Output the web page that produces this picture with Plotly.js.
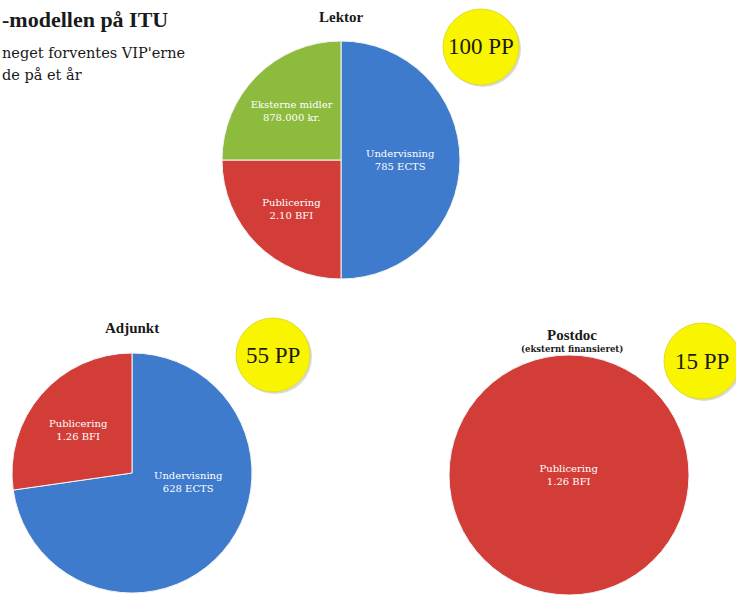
<!DOCTYPE html>
<html><head><meta charset="utf-8">
<script src="https://cdn.plot.ly/plotly-3.0.1.min.js"></script>
<style>html,body{margin:0;padding:0;background:#fff}#chart{width:736px;height:596px}</style>
</head><body><div id="chart"></div>
<script>
// Data (values in PP points)
const lektorLabels = ["Undervisning", "Publicering", "Eksterne midler"];
const lektorValues = [50, 25, 25];
const lektorText = ["Undervisning<br>785 ECTS", "Publicering<br>2.10 BFI", "Eksterne midler<br>878.000 kr."];
const lektorTotal = "100 PP";

const adjunktLabels = ["Undervisning", "Publicering"];
const adjunktValues = [40, 15];
const adjunktText = ["Undervisning<br>628 ECTS", "Publicering<br>1.26 BFI"];
const adjunktTotal = "55 PP";

const postdocLabels = ["Publicering"];
const postdocValues = [15];
const postdocText = ["Publicering<br>1.26 BFI"];
const postdocTotal = "15 PP";

const titleLines = ["-modellen på ITU", "neget forventes VIP'erne", "de på et år"];

const colorMap = {"Undervisning": "#3f7bcc", "Publicering": "#d23d38", "Eksterne midler": "#8dbb3e"};
const W = 736, H = 596;
const serif = "Liberation Serif, DejaVu Serif, serif";
const wide = "DejaVu Serif, serif";
function px(x){return x / W;}
function py(y){return 1 - y / H;}

function pieTrace(labels, values, text, cx, cy, r, showText) {
  return {
    type: "pie", labels: labels, values: values, text: text,
    sort: false, direction: "clockwise", rotation: 0,
    textinfo: showText ? "text" : "none", textposition: "inside",
    insidetextorientation: "horizontal",
    insidetextfont: {family: wide, size: 10, color: "#ffffff"},
    marker: {colors: labels.map(l => colorMap[l]), line: {color: "#f4f4f4", width: 1}},
    domain: {x: [px(cx - r), px(cx + r)], y: [py(cy + r), py(cy - r)]},
    showlegend: false, hoverinfo: "label+value"
  };
}

const data = [
  pieTrace(lektorLabels, lektorValues, lektorText, 341, 160, 119, true),
  pieTrace(adjunktLabels, adjunktValues, adjunktText, 132, 473, 120, false),
  pieTrace(postdocLabels, postdocValues, postdocText, 569, 475, 120, true)
];

const shapes = [];
const annotations = [];
function badge(cx, cy, r, txt) {
  shapes.push({type: "circle", xref: "paper", yref: "paper",
    x0: px(cx - r + 2), x1: px(cx + r + 2), y0: py(cy + r + 2), y1: py(cy - r + 2),
    fillcolor: "rgba(150,150,150,0.35)", line: {width: 0}});
  shapes.push({type: "circle", xref: "paper", yref: "paper",
    x0: px(cx - r), x1: px(cx + r), y0: py(cy + r), y1: py(cy - r),
    fillcolor: "#f9f400", line: {color: "#e0dc30", width: 1}});
  annotations.push({xref: "paper", yref: "paper", x: px(cx), y: py(cy), text: txt,
    showarrow: false, xanchor: "center", yanchor: "middle",
    font: {family: serif, size: 23, color: "#1a1a1a"}});
}
badge(481, 47, 38, lektorTotal);
badge(273, 355, 37, adjunktTotal);
badge(702, 361, 38, postdocTotal);

function title(x, y, txt, size, fam) {
  annotations.push({xref: "paper", yref: "paper", x: px(x), y: py(y), text: txt,
    showarrow: false, xanchor: "center", yanchor: "middle",
    font: {family: fam || serif, size: size, color: "#1a1a1a"}});
}
title(341, 17, "<b>Lektor</b>", 15);
title(132, 328, "<b>Adjunkt</b>", 15);
title(572, 335, "<b>Postdoc</b>", 15);
title(572, 349, "<b>(eksternt finansieret)</b>", 8.5, wide);

// Adjunkt slice labels placed manually
annotations.push({xref: "paper", yref: "paper", x: px(188), y: py(482), text: adjunktText[0],
  showarrow: false, xanchor: "center", yanchor: "middle", font: {family: wide, size: 10, color: "#ffffff"}});
annotations.push({xref: "paper", yref: "paper", x: px(78), y: py(430), text: adjunktText[1],
  showarrow: false, xanchor: "center", yanchor: "middle", font: {family: wide, size: 10, color: "#ffffff"}});

// Top-left heading
annotations.push({xref: "paper", yref: "paper", x: 0, y: py(19), text: "<b>" + titleLines[0] + "</b>",
  showarrow: false, xanchor: "left", yanchor: "middle", font: {family: serif, size: 22, color: "#1a1a1a"}});
annotations.push({xref: "paper", yref: "paper", x: 0, y: py(53), text: titleLines[1],
  showarrow: false, xanchor: "left", yanchor: "middle", font: {family: wide, size: 14.5, color: "#1a1a1a"}});
annotations.push({xref: "paper", yref: "paper", x: 0, y: py(75), text: titleLines[2],
  showarrow: false, xanchor: "left", yanchor: "middle", font: {family: wide, size: 14.5, color: "#1a1a1a"}});

const layout = {
  width: W, height: H, margin: {l: 0, r: 0, t: 0, b: 0},
  paper_bgcolor: "#ffffff", plot_bgcolor: "#ffffff",
  shapes: shapes, annotations: annotations, showlegend: false
};
Plotly.newPlot("chart", data, layout, {displayModeBar: false, staticPlot: true});
</script></body></html>
